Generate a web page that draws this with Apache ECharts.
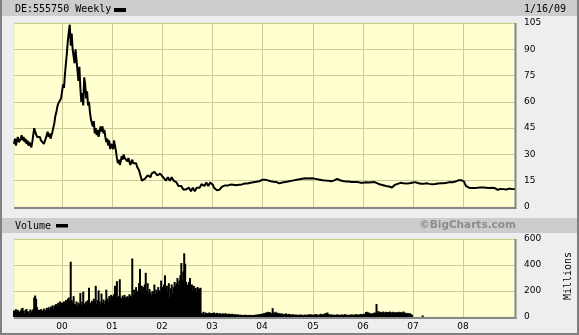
<!DOCTYPE html>
<html><head><meta charset="utf-8">
<script src="https://cdn.jsdelivr.net/npm/echarts@6/dist/echarts.min.js"></script>
<style>html,body{margin:0;padding:0;background:#eeeeee;}#c{width:579px;height:335px;}</style>
</head><body><div id="c"></div>
<script>
// Weekly closing prices (EUR), first week 1999-01-22, last 2009-01-16
const price1999 = [36,39,35,38,40,37,36,39,41,38, 40,37,39,36,38,35,37,36,34,37, 41,45,43,42,40,41,39,40,38,37, 38,36,37,39,41,43,40,42,39,41, 43,44,48,52,54,57,59,58,60,62];
const price2000 = [63,70,68,76,82, 88,95,100,104, 92,99,90, 86,82,90,84, 78,72,80, 68,60,65,58, 74,70, 62,66,58,60, 54,50, 48,46,49, 42,45,41,44,40,43,46, 43,46,42,44, 40,37,39,35,38,33,36];
const price2001 = [37,33,38,35,32, 28,25,27,24,26,29, 27,30,28,29,27,26,28, 26,24,25,27,25,24,26,25,23,24, 21,19,17, 15,16,14,16,17,16,18, 17,18,17,19,18,19,20,19,20,18,19,18,19,18];
const price2002 = [18,17,16,17,15,16,17,16,15,16,17,16,15,16,15, 14,13,12,13,11,12,11,10,11,9, 10,9,10,11,10,9,10,11,10,9,10,11,10,11, 11,12,13,12,13,12,13,14,13,12,13,14,13];
const price2003 = [13,12.5,11,10,10.5,9.5,10,9,10,10.8, 11.5,12,11.8,12.2,12,12.4,12.2,12.6,12.4,12.8, 12.6,13,12.7,12.5,12.8,12.4,12.6,12.9,12.7,13, 13.2,12.9,13.3,13.1,13.4,13.2,13.6,13.4,13.7,13.5, 13.8,14,13.8,14.1,14.3,14.1,14.4,14.6,14.4,14.7, 14.9,15.2];
const price2004 = [15.5,16.2,16,15.6,15.3,15.1,15.2,14.9,15,14.7, 14.9,14.6,14.4,14.6,14.3,14.2,14,13.8,13.5,13.3, 13.7,14,14.2,14.1,14.3,14.5,14.4,14.6,14.8,14.7, 14.9,15.1,15,15.2,15.4,15.3,15.5,15.7,15.6,15.8, 16,15.9,16.1,16.3,16.2,16.4,16.6,16.5,16.3,16.5, 16.6,16.4,16.2];
const price2005 = [16.4,16.2,16,15.8,15.9,15.7,15.5,15.6,15.4,15.5, 15.3,15.2,15.4,15.1,15,15.2,15,14.8,14.9,14.7, 14.8,15,15.2,15.5,15.8,16,15.7,15.5,15.3,15.2, 15,14.8,14.9,14.7,14.6,14.8,14.5,14.6,14.4,14.5, 14.3,14.4,14.6,14.3,14.2,14.1,14.3,14,14.2,13.9, 14.1,13.8];
const price2006 = [13.9,14,13.8,14.1,13.9,13.7,14,14.2,13.9,14.1, 13.8,14,14.2,14,13.7,13.5,13.2,13,12.8,12.9, 12.6,12.4,12.5,12.2,12,11.8,12,11.7,11.5,11.3, 11.1,11,12,12.6,13,13.4,13.2,13.6,13.3,13.8, 14,13.7,13.5,13.8,13.6,13.4,13.7,13.9,13.6,13.8, 14,13.9];
const price2007 = [14,13.8,14.2,13.6,13.4,13.7,13.2,13,13.3,13.1, 13.4,13.2,13.6,13.3,13.5,13.8,13.4,13.2,13.5,13.3, 13,13.2,13.4,13.1,13.5,13.7,13.4,13.6,13.8,13.5, 13.7,13.9,13.6,13.8,14,13.8,14.1,13.9,14.2,14, 14.3,14.1,14.4,14.6,14.5,14.8,15,15.2,15.4,15.6, 15.3,15.8];
const price2008 = [15.2,14.5,13.2,12,11.2,11.5,11,11.3,11.1,10.8, 11,11.2,10.9,11.1,10.8,11,10.7,10.9,11.2,11, 10.8,11.1,10.9,10.7,11,10.8,10.6,10.9,11.1,10.8, 11,10.7,10.5,10.8,10.4,10.9,9.8,10.5,9.2,10.3, 9.6,10.8,10.2,9.5,10.6,10,10.4,10.1,10.5,10.3, 10.6,10.2];
const price2009 = [10.4,10.1,10.3];

// Weekly volume (millions)
const vol1999 = [50,45,60,38,55,42,35,50,65,70,48,30,55,62,40,45,20,58,35,50, 60,150,165,140,75, 45,55,40,60,50,45,65,40,55,70, 60,75,55,80,70,90,65,85,95, 100,80,110,90,120,105];
const vol2000 = [110,95,120,105,130,115,140,150, 120,425, 130,110,160,100, 95,120,85,110,100,185, 90,115,195,105,90, 120,100,130,225,110, 95,125,105,140,115,240, 100,130,205,120,95, 180,110,135,100,125, 210,140,115,160,130,170];
const vol2001 = [160,140,175,240,150, 275,145,160,290,150, 140,165,150,170,145,155, 160,150,175,165,155, 450, 170,210,185,230,175,200, 260,370, 200,240,190,230,250,340, 200,260,180,215,190,170, 200,185,250,175,210,190,230,205,195,280];
const vol2002 = [230,200,250,320,210,240, 190,260,140,220,250,180, 230,270,240,260,300,250,280, 320,415,280,350,490,410,270, 250,230,270,300,240, 250,200,240,215, 225,200,230,215,220,225, 30,25,40,20,35,28,30,22,35,25,30];
const vol2003 = [30,25,35,20,28,32,22,26,30,24, 20,28,25,22,30,18,24,20,26,22, 18,25,20,16,22,19,15,20,17,14, 18,15,12,16,14,18,12,15,13,17, 12,14,16,12,15,18,14,20,16,22, 18,25];
const vol2004 = [20,25,30,22,35,28,40,32,38,25, 30,68,35,28,40,30,33,25,30,22, 28,20,25,18,22,28,20,16,24,18, 20,15,22,17,14,20,16,12,18,15, 20,14,17,12,16,19,14,18,15,22, 17,20,16];
const vol2005 = [18,15,20,22,16,18,14,20,25,17, 22,19,24,30,28,35,22,18,20,16, 19,15,18,14,17,20,15,18,13,16, 20,14,17,22,15,19,16,14,18,15, 20,17,14,19,16,22,18,15,20,17, 24,19];
const vol2006 = [20,25,22,38,40,30,35,25,28,22, 30,26,35,30,100,30,45,35,40,38, 32,42,36,30,40,34,38,28,42,36, 32,40,30,35,38,28,36,40,32,38, 30,36,42,34,28,32,26,30,25,28, 22,15];
const vol2007 = [0,0,0,0,0,0,0,0,0,0, 12,0,0,0,0,0,0,0,0,0, 0,0,0,0,0,0,0,0,0,0, 0,0,0,0,0,0,0,0,0,0, 0,0,0,0,0,0,0,0,0,0, 0,0];
const vol2008 = [0,0,0,0,0,0,0,0,0,0, 0,0,0,0,0,0,0,0,0,0, 0,0,0,0,0,0,0,0,0,0, 0,0,0,0,0,0,0,0,0,0, 0,0,0,0,0,0,0,0,0,0, 0,0];
const vol2009 = [0,0,0];

const priceTicks = [0,105,15];
const volTicks = [0,600,200];

const prices = [].concat(price1999,price2000,price2001,price2002,price2003,price2004,price2005,price2006,price2007,price2008,price2009);
const volumes = [].concat(vol1999,vol2000,vol2001,vol2002,vol2003,vol2004,vol2005,vol2006,vol2007,vol2008,vol2009);
const start = Date.UTC(1999,0,22);
const dates = prices.map((_, i) => new Date(start + i*7*86400000).toISOString().slice(0,10));
const yearStart = dates.map((d, i) => i > 0 && d.slice(0,4) !== dates[i-1].slice(0,4) && d.slice(0,4) !== '2009');
const isYear = (idx) => yearStart[idx];

const GRID = '#cccc99';
const chart = echarts.init(document.getElementById('c'), null, {renderer:'canvas', width:579, height:335});
const baseX = {
  type:'category', data: dates, boundaryGap:false,
  axisLine:{show:false}, axisTick:{show:false},
  splitLine:{show:true, interval:isYear, lineStyle:{color:GRID, width:1}}
};
chart.setOption({
  animation:false,
  backgroundColor:'#eeeeee',
  grid:[
    {left:14, top:23, width:501, height:184, show:true, backgroundColor:'#ffffd0', borderColor:'#e8e8c0', borderWidth:1},
    {left:14, top:239, width:501, height:78, show:true, backgroundColor:'#ffffd0', borderColor:'#e8e8c0', borderWidth:1}
  ],
  xAxis:[
    Object.assign({gridIndex:0, axisLabel:{show:false}}, baseX),
    Object.assign({gridIndex:1, axisLabel:{show:true, interval:isYear, formatter:(v)=>v.slice(2,4), fontSize:9, fontFamily:'DejaVu Sans', color:'#000', margin:5}}, baseX)
  ],
  yAxis:[
    {gridIndex:0, type:'value', position:'right', min:priceTicks[0], max:priceTicks[1], interval:priceTicks[2],
     axisLine:{show:false}, axisTick:{show:false},
     axisLabel:{fontSize:9, fontFamily:'DejaVu Sans', color:'#000', margin:9},
     splitLine:{lineStyle:{color:GRID, width:1}}},
    {gridIndex:1, type:'value', position:'right', min:volTicks[0], max:volTicks[1], interval:volTicks[2],
     axisLine:{show:false}, axisTick:{show:false},
     axisLabel:{fontSize:9, fontFamily:'DejaVu Sans', color:'#000', margin:9},
     splitLine:{lineStyle:{color:GRID, width:1}}}
  ],
  series:[
    {type:'line', xAxisIndex:0, yAxisIndex:0, data:prices, symbol:'none', lineStyle:{color:'#000', width:2}, z:5},
    {type:'bar', xAxisIndex:1, yAxisIndex:1, data:volumes, barWidth:2, barGap:'-100%', itemStyle:{color:'#000'}, z:5}
  ],
  graphic:[
    {type:'rect', shape:{x:0,y:0,width:579,height:16}, style:{fill:'#cccccc'}, z:-10},
    {type:'rect', shape:{x:0,y:218,width:579,height:15}, style:{fill:'#cccccc'}, z:-10},
    {type:'text', x:15, y:9, style:{text:'DE:555750 Weekly', font:'10px "DejaVu Sans Mono"', fill:'#000', verticalAlign:'middle'}},
    {type:'rect', shape:{x:114,y:8,width:12,height:4}, style:{fill:'#000'}},
    {type:'text', x:524, y:9, style:{text:'1/16/09', font:'10px "DejaVu Sans Mono"', fill:'#000', verticalAlign:'middle'}},
    {type:'text', x:15, y:226, style:{text:'Volume', font:'10px "DejaVu Sans Mono"', fill:'#000', verticalAlign:'middle'}},
    {type:'rect', shape:{x:56,y:224,width:12,height:3.5}, style:{fill:'#000'}},
    {type:'text', x:516, y:225.5, style:{text:'\u00A9BigCharts.com', font:'bold 10.5px "DejaVu Sans"', fill:'#8c8c8c', align:'right', verticalAlign:'middle'}},
    {type:'text', x:568, y:276, rotation:Math.PI/2, style:{text:'Millions', font:'10px "DejaVu Sans Mono"', fill:'#000', align:'center', verticalAlign:'middle'}},
    {type:'line', shape:{x1:515.5,y1:23,x2:515.5,y2:209}, style:{stroke:'#888', lineWidth:2}, z:20},
    {type:'line', shape:{x1:14,y1:208,x2:516.5,y2:208}, style:{stroke:'#888', lineWidth:2}, z:20},
    {type:'line', shape:{x1:515.5,y1:239,x2:515.5,y2:319}, style:{stroke:'#888', lineWidth:2}, z:20},
    {type:'line', shape:{x1:14,y1:318,x2:516.5,y2:318}, style:{stroke:'#888', lineWidth:2}, z:20},
    {type:'rect', shape:{x:0,y:0,width:2,height:335}, style:{fill:'#808080'}, z:20},
    {type:'rect', shape:{x:577,y:0,width:2,height:335}, style:{fill:'#808080'}, z:20},
    {type:'rect', shape:{x:0,y:333,width:579,height:2}, style:{fill:'#808080'}, z:20}
  ]
});
</script></body></html>
